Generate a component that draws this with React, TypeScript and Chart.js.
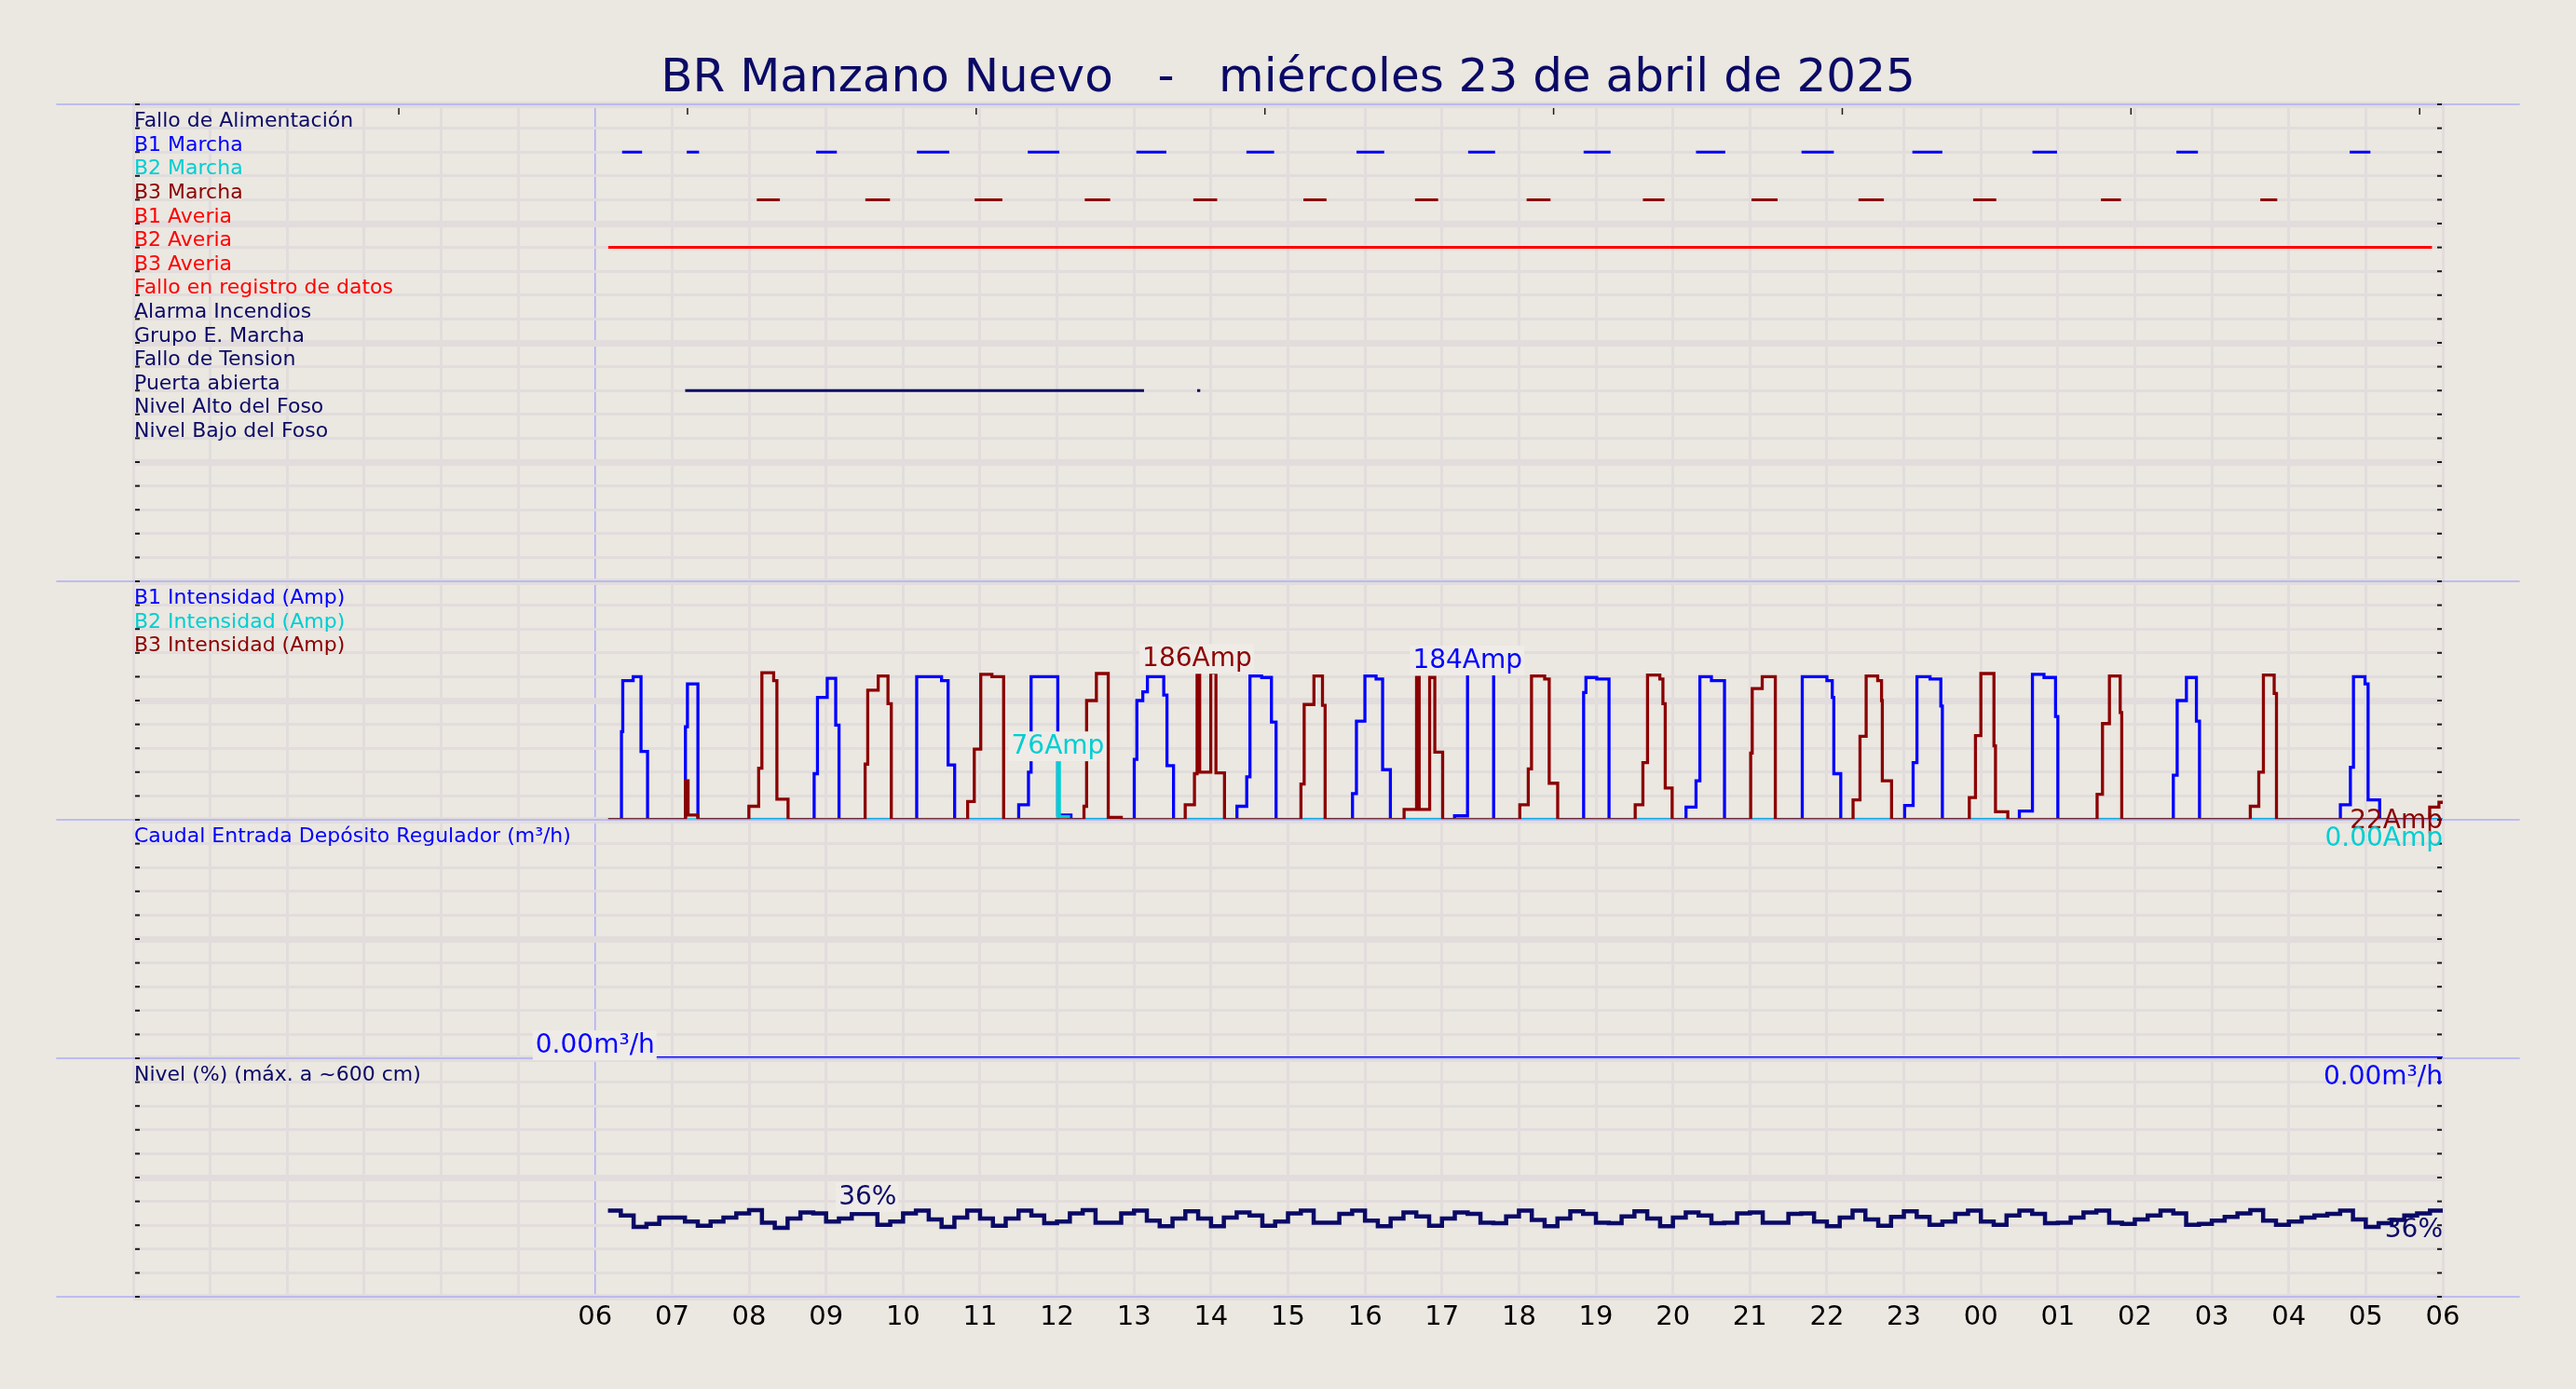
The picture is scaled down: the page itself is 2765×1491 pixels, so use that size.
import React, { useEffect, useRef } from "react";
import { Chart, registerables } from "chart.js";

Chart.register(...registerables);

const WIDTH = 2765;
const HEIGHT = 1491;
const FONT = "'DejaVu Sans', 'Liberation Sans', sans-serif";

const BG = "#EBE7E1";
const GRID = "#E2DDDC";
const FRAME = "#AEAEF5";
const LABEL_BOX = "#EFEBE7";
const NAVY = "#0A0A66";
const BLUE = "#0000FF";
const CYAN = "#00CED1";
const DARKRED = "#8B0000";
const RED = "#FF0000";

const title = "BR Manzano Nuevo   -   miércoles 23 de abril de 2025";

// x axis is in hours after 06:00 of the day
const hourTicks = [-6, -5, -4, -3, -2, -1, 0, 1, 2, 3, 4, 5, 6, 7, 8, 9, 10, 11, 12, 13, 14, 15, 16, 17, 18, 19, 20, 21, 22, 23, 24];
const topTickHours = [-2.55, 1.2, 4.95, 8.7, 12.45, 16.2, 19.95, 23.7];

const digitalRows = [0, 1, 2, 3, 4, 5, 6, 7, 8, 9, 10, 11, 12, 13, 14, 15, 16, 17, 18, 19, 20];
const ampTicks = [0, 30, 60, 90, 120, 150, 180, 210, 240, 270, 300];
const flowTicks = [0, 1, 2, 3, 4, 5, 6, 7, 8, 9, 10];
const levelTicks = [0, 10, 20, 30, 40, 50, 60, 70, 80, 90, 100];

const digitalLabels = [
  "Fallo de Alimentación",
  "B1 Marcha",
  "B2 Marcha",
  "B3 Marcha",
  "B1 Averia",
  "B2 Averia",
  "B3 Averia",
  "Fallo en registro de datos",
  "Alarma Incendios",
  "Grupo E. Marcha",
  "Fallo de Tension",
  "Puerta abierta",
  "Nivel Alto del Foso",
  "Nivel Bajo del Foso",
];
const digitalColors = [NAVY, BLUE, CYAN, DARKRED, RED, RED, RED, RED, NAVY, NAVY, NAVY, NAVY, NAVY, NAVY];

const ampLabels = ["B1 Intensidad (Amp)", "B2 Intensidad (Amp)", "B3 Intensidad (Amp)"];
const ampColors = [BLUE, CYAN, DARKRED];
const flowLabel = "Caudal Entrada Depósito Regulador (m³/h)";
const levelLabel = "Nivel (%) (máx. a ~600 cm)";

// on/off intervals [start, end] in hours
const b1MarchaOn = [
  [0.35, 0.61], [1.19, 1.35], [2.87, 3.14], [4.18, 4.6], [5.62, 6.03], [7.03, 7.42],
  [8.46, 8.82], [9.89, 10.25], [11.34, 11.69], [12.84, 13.19], [14.3, 14.68],
  [15.67, 16.09], [17.11, 17.5], [18.67, 18.99], [20.54, 20.82], [22.79, 23.06],
];
const b3MarchaOn = [
  [2.1, 2.4], [3.51, 3.83], [4.93, 5.29], [6.36, 6.69], [7.77, 8.08], [9.2, 9.5],
  [10.65, 10.95], [12.1, 12.41], [13.61, 13.89], [15.02, 15.36], [16.41, 16.74],
  [17.9, 18.2], [19.56, 19.82], [21.63, 21.85],
];
const b2AveriaOn = [[0.17, 23.86]];
const puertaOn = [[1.17, 7.13], [7.82, 7.86]];

type Step = [number, number];

// pump currents (Amp), value held from each hour until the next one
const b1Amp: Step[] = [
  [0.17, 0],
  [0.342, 111], [0.359, 175], [0.494, 180], [0.596, 86], [0.681, 0],
  [1.173, 117], [1.199, 171], [1.335, 0],
  [2.845, 58], [2.888, 154], [3.015, 178], [3.125, 119], [3.168, 0],
  [4.177, 180], [4.5, 175], [4.585, 69], [4.67, 0],
  [5.502, 19], [5.629, 60], [5.663, 180], [6.01, 6], [6.181, 0],
  [7.003, 76], [7.037, 150], [7.114, 161], [7.174, 180], [7.386, 157], [7.428, 68], [7.513, 0],
  [8.337, 17], [8.464, 54], [8.506, 181], [8.658, 179], [8.785, 123], [8.845, 0],
  [9.838, 33], [9.889, 124], [9.999, 181], [10.144, 177], [10.229, 63], [10.33, 0],
  [11.163, 5], [11.332, 184], [11.671, 0],
  [12.84, 160], [12.87, 179], [13.01, 177], [13.17, 0],
  [14.17, 16], [14.3, 49], [14.35, 180], [14.5, 175], [14.67, 0],
  [15.68, 180], [16.0, 175], [16.07, 154], [16.09, 58], [16.18, 0],
  [17.01, 18], [17.12, 72], [17.17, 180], [17.34, 177], [17.48, 143], [17.5, 0],
  [18.5, 11], [18.67, 183], [18.82, 179], [18.97, 130], [19.0, 0],
  [20.5, 56], [20.55, 150], [20.67, 179], [20.8, 124], [20.84, 0],
  [22.67, 19], [22.8, 66], [22.84, 180], [22.99, 171], [23.03, 25], [23.18, 0],
  [24, 0],
];
const b2Amp: Step[] = [[0.17, 0], [6.01, 76], [6.03, 4], [6.15, 0], [24, 0]];
const b3Amp: Step[] = [
  [0.17, 0],
  [1.173, 49], [1.207, 6], [1.335, 0],
  [1.997, 17], [2.124, 65], [2.166, 185], [2.319, 175], [2.361, 26], [2.506, 0],
  [3.507, 70], [3.541, 163], [3.677, 181], [3.804, 146], [3.847, 0],
  [4.839, 23], [4.925, 89], [5.009, 183], [5.154, 180], [5.306, 0],
  [6.35, 17], [6.384, 150], [6.511, 184], [6.665, 3], [6.834, 0],
  [7.665, 19], [7.785, 58], [7.819, 186], [7.853, 60], [7.997, 185], [8.064, 59], [8.175, 0],
  [9.168, 45], [9.21, 145], [9.337, 181], [9.448, 144], [9.482, 0],
  [10.508, 13], [10.67, 179], [10.704, 13], [10.84, 179], [10.907, 85], [11.009, 0],
  [12.011, 19], [12.121, 64], [12.163, 181], [12.334, 177], [12.393, 46], [12.503, 0],
  [13.51, 19], [13.61, 72], [13.67, 182], [13.83, 177], [13.87, 146], [13.9, 40], [13.99, 0],
  [15.01, 84], [15.03, 165], [15.16, 180], [15.33, 0],
  [16.34, 25], [16.43, 105], [16.51, 181], [16.66, 175], [16.71, 150], [16.72, 49], [16.84, 0],
  [17.85, 28], [17.93, 106], [18.0, 184], [18.17, 93], [18.19, 10], [18.35, 0],
  [19.51, 32], [19.58, 121], [19.67, 181], [19.81, 135], [19.83, 0],
  [21.5, 17], [21.61, 60], [21.67, 182], [21.81, 159], [21.84, 0],
  [23.83, 16], [23.95, 22], [24, 22],
];

// inflow (m³/h)
const flowSteps: Step[] = [[0.17, 0], [24, 0]];

// level (%) every 10 minutes from 06:10
const LEVEL_START = 1 / 6;
const LEVEL_STEP = 1 / 6;
const levelValues = [
  36.1, 34.1, 29.3, 30.6, 33.2, 33.2, 31.5, 29.8, 31.5, 33.2,
  35.0, 36.3, 31.1, 28.9, 32.8, 35.4, 35.0, 31.5, 32.8, 34.8,
  34.8, 30.2, 31.5, 35.0, 36.1, 32.4, 29.3, 33.2, 36.1, 32.8,
  29.8, 32.8, 36.1, 34.1, 30.9, 31.5, 35.0, 36.3, 31.1, 31.1,
  35.0, 36.1, 31.9, 29.6, 32.8, 35.8, 32.8, 29.6, 33.2, 35.4,
  34.1, 29.8, 31.5, 35.0, 36.1, 31.1, 31.1, 34.8, 36.1, 31.9,
  29.6, 32.8, 35.4, 33.7, 29.8, 32.8, 35.4, 34.8, 31.1, 30.9,
  33.7, 36.1, 32.2,
  29.6, 32.8, 35.8, 34.8, 31.1, 30.9, 33.7, 35.8, 32.8, 29.6,
  33.2, 35.4, 34.1, 30.9, 31.1, 35.0, 35.4, 31.1, 31.1, 34.8,
  35.0, 31.5, 29.6, 33.2, 36.1, 32.4, 29.8, 33.5, 35.8, 33.5,
  30.2, 31.5, 34.8, 36.1, 31.5, 30.2, 34.1, 36.1, 34.8, 30.9,
  31.1, 33.2, 35.4, 36.1, 31.1, 30.6, 32.4, 34.1, 36.1, 35.0,
  30.2, 30.6, 31.9, 33.5, 35.0, 36.3, 31.9, 30.2, 31.5, 33.2,
  34.1, 34.8, 36.1, 32.4, 29.3, 30.9, 32.2, 34.1, 35.0, 36.1,
  36.1,
];

// where the original places the max label of the flow and level series
const flowMaxLabelAt = 0;
const levelMaxLabelAt = 3.54;

const stepPoints = (steps: Step[]) => steps.map(([x, y]) => ({ x, y }));
const levelPoints = levelValues.map((v, i) => ({ x: LEVEL_START + i * LEVEL_STEP, y: v }));
const barPoints = (intervals: number[][], row: number) =>
  intervals.flatMap(([s, e]) => [
    { x: s, y: row },
    { x: e, y: row },
    { x: e, y: null as number | null },
  ]);

const fmt = (v: number) => (v === 0 ? "0.00" : String(Math.round(v)));

type ValueLabel = {
  points: { x: number; y: number }[];
  axis: string;
  color: string;
  unit: string;
  at?: number;
};

const maxLabels: ValueLabel[] = [
  { points: stepPoints(b3Amp), axis: "yAmp", color: DARKRED, unit: "Amp" },
  { points: stepPoints(b1Amp), axis: "yAmp", color: BLUE, unit: "Amp" },
  { points: stepPoints(b2Amp), axis: "yAmp", color: CYAN, unit: "Amp" },
  { points: stepPoints(flowSteps), axis: "yFlow", color: BLUE, unit: "m³/h", at: flowMaxLabelAt },
  { points: levelPoints, axis: "yLvl", color: NAVY, unit: "%", at: levelMaxLabelAt },
];
const lastLabels: ValueLabel[] = [
  { points: stepPoints(b3Amp), axis: "yAmp", color: DARKRED, unit: "Amp" },
  { points: stepPoints(b2Amp), axis: "yAmp", color: CYAN, unit: "Amp" },
  { points: stepPoints(flowSteps), axis: "yFlow", color: BLUE, unit: "m³/h" },
  { points: levelPoints, axis: "yLvl", color: NAVY, unit: "%" },
];

const panelScale = (min: number, max: number, ticks: number[], weight: number, stackWeight: number, reverse = false) => ({
  type: "linear" as const,
  position: "left" as const,
  stack: "panels",
  stackWeight,
  weight,
  min,
  max,
  reverse,
  afterBuildTicks: (s: any) => {
    s.ticks = ticks.map((v) => ({ value: v }));
  },
  ticks: { display: false },
  grid: {
    color: GRID,
    lineWidth: (c: any) => (c.index % 5 === 0 ? 7 : 3),
    drawTicks: false,
  },
  border: { display: false },
});

const decor = {
  id: "decor",
  beforeDraw(chart: any) {
    const { ctx } = chart;
    ctx.save();
    ctx.fillStyle = BG;
    ctx.fillRect(0, 0, chart.width, chart.height);
    ctx.restore();
  },
  afterDatasetsDraw(chart: any) {
    const { ctx, chartArea, scales } = chart;
    const xs = scales.x;
    const panels = [scales.yDig, scales.yAmp, scales.yFlow, scales.yLvl];
    ctx.save();

    // panel separators, drawn over the data
    const x0 = xs.getPixelForValue(-7);
    const x1 = xs.getPixelForValue(25);
    ctx.strokeStyle = FRAME;
    ctx.lineWidth = 1.5;
    const seps = [panels[0].top, ...panels.map((p: any) => p.bottom)];
    seps.forEach((y: number) => {
      ctx.beginPath();
      ctx.moveTo(x0, y);
      ctx.lineTo(x1, y);
      ctx.stroke();
    });

    // small tick marks inside the frame
    ctx.fillStyle = "#1a1a1a";
    panels.forEach((p: any) => {
      p.ticks.forEach((t: any) => {
        const y = p.getPixelForValue(t.value);
        ctx.fillRect(chartArea.left + 2, y - 1, 5, 2);
        ctx.fillRect(chartArea.right - 6, y - 1, 5, 2);
      });
    });
    topTickHours.forEach((h) => {
      const px = xs.getPixelForValue(h);
      ctx.fillRect(px - 0.75, chartArea.top + 4, 1.5, 7);
    });

    // row labels
    ctx.font = `22px ${FONT}`;
    ctx.textAlign = "left";
    ctx.textBaseline = "alphabetic";
    const lx = chartArea.left + 1;
    digitalLabels.forEach((txt, i) => {
      ctx.fillStyle = digitalColors[i];
      ctx.fillText(txt, lx, scales.yDig.getPixelForValue(i + 1) - 1.5);
    });
    ampLabels.forEach((txt, i) => {
      ctx.fillStyle = ampColors[i];
      ctx.fillText(txt, lx, scales.yAmp.getPixelForValue(300 - 30 * (i + 1)) - 1.5);
    });
    ctx.fillStyle = BLUE;
    ctx.fillText(flowLabel, lx, scales.yFlow.getPixelForValue(9) - 1.5);
    ctx.fillStyle = NAVY;
    ctx.fillText(levelLabel, lx, scales.yLvl.getPixelForValue(90) - 1.5);

    // value labels
    ctx.font = `28px ${FONT}`;
    const drawText = (txt: string, left: number, base: number, color: string, box: boolean) => {
      const w = ctx.measureText(txt).width;
      if (box) {
        ctx.fillStyle = LABEL_BOX;
        ctx.fillRect(left - 3, base - 24, w + 5, 32);
      }
      ctx.fillStyle = color;
      ctx.fillText(txt, left, base);
    };
    lastLabels.forEach((l) => {
      const last = l.points[l.points.length - 1];
      const txt = fmt(last.y) + l.unit;
      const w = ctx.measureText(txt).width;
      const py = scales[l.axis].getPixelForValue(last.y);
      drawText(txt, chartArea.right - w, py + 28, l.color, false);
    });
    maxLabels.forEach((l) => {
      let best = l.points[0];
      l.points.forEach((p) => {
        if (p.y > best.y) best = p;
      });
      const txt = fmt(best.y) + l.unit;
      const w = ctx.measureText(txt).width;
      const px = xs.getPixelForValue(l.at !== undefined ? l.at : best.x);
      const py = scales[l.axis].getPixelForValue(best.y);
      drawText(txt, px - w / 2, py - 6, l.color, true);
    });

    ctx.restore();
  },
};

const App: React.FC = () => {
  const canvasRef = useRef<HTMLCanvasElement | null>(null);
  const chartRef = useRef<Chart | null>(null);

  useEffect(() => {
    document.body.style.margin = "0";
    Chart.defaults.font.family = FONT;
    const ctx = canvasRef.current?.getContext("2d");
    if (!ctx) return;
    if (chartRef.current) chartRef.current.destroy();

    const digital = (data: any[], color: string) => ({
      data,
      yAxisID: "yDig",
      borderColor: color,
      borderWidth: 3,
      borderCapStyle: "butt",
      pointRadius: 0,
      spanGaps: false,
      order: 5,
    });
    const stepped = (data: any[], yAxisID: string, color: string, width: number, order: number) => ({
      data,
      yAxisID,
      borderColor: color,
      borderWidth: width,
      stepped: true,
      pointRadius: 0,
      order,
    });

    chartRef.current = new Chart(ctx, {
      type: "line",
      data: {
        datasets: [
          digital(barPoints(b1MarchaOn, 2), BLUE),
          digital(barPoints(b3MarchaOn, 4), DARKRED),
          digital(barPoints(b2AveriaOn, 6), RED),
          digital(barPoints(puertaOn, 12), NAVY),
          stepped(stepPoints(b1Amp), "yAmp", BLUE, 3.3, 3),
          stepped(stepPoints(b2Amp), "yAmp", CYAN, 3.3, 2),
          stepped(stepPoints(b3Amp), "yAmp", DARKRED, 3.3, 1),
          stepped(stepPoints(flowSteps), "yFlow", BLUE, 4, 4),
          stepped(levelPoints, "yLvl", NAVY, 4.5, 4),
        ] as any,
      },
      options: {
        responsive: false,
        devicePixelRatio: 1,
        animation: false,
        events: [],
        layout: { padding: { left: 143, right: 143, top: 0, bottom: 0 } },
        plugins: {
          legend: { display: false },
          tooltip: { enabled: false },
          title: {
            display: true,
            text: title,
            color: NAVY,
            font: { size: 50, weight: "normal", family: FONT, lineHeight: 1.0 },
            padding: { top: 60, bottom: 2 },
          },
        },
        scales: {
          x: {
            type: "linear",
            position: "bottom",
            min: -6,
            max: 24,
            afterBuildTicks: (s: any) => {
              s.ticks = hourTicks.map((v) => ({ value: v }));
            },
            afterFit: (s: any) => {
              s.height = 99;
            },
            ticks: {
              autoSkip: false,
              maxRotation: 0,
              minRotation: 0,
              padding: 5,
              color: "#000000",
              font: { size: 29, family: FONT },
              callback: (v: any) => (v >= 0 ? String((6 + Number(v)) % 24).padStart(2, "0") : ""),
            },
            grid: {
              color: (c: any) => (c.tick && c.tick.value === 0 ? FRAME : GRID),
              lineWidth: (c: any) => (c.tick && c.tick.value === 0 ? 1.5 : 3),
              drawTicks: false,
            },
            border: { display: false },
          },
          yDig: panelScale(0, 20, digitalRows, 4, 2, true),
          yAmp: panelScale(0, 300, ampTicks, 3, 1),
          yFlow: panelScale(0, 10, flowTicks, 2, 1),
          yLvl: panelScale(0, 100, levelTicks, 1, 1),
        } as any,
      },
      plugins: [decor],
    });

    return () => {
      if (chartRef.current) {
        chartRef.current.destroy();
        chartRef.current = null;
      }
    };
  }, []);

  return (
    <div style={{ position: "absolute", left: 0, top: 0, width: WIDTH, height: HEIGHT, background: BG }}>
      <canvas ref={canvasRef} width={WIDTH} height={HEIGHT} style={{ display: "block" }}></canvas>
    </div>
  );
};

export default App;
